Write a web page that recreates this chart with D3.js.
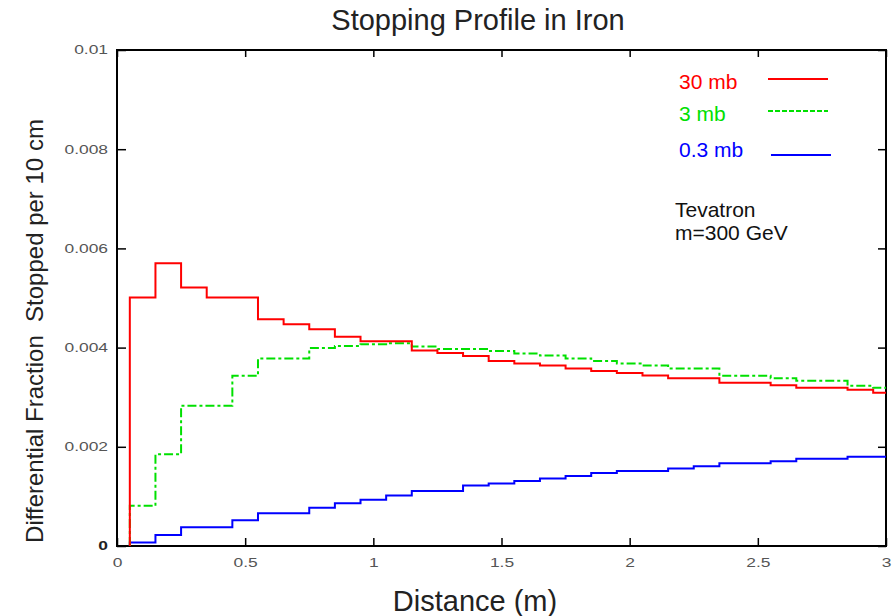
<!DOCTYPE html>
<html>
<head>
<meta charset="utf-8">
<script src="https://cdn.jsdelivr.net/npm/d3@7"></script>
<style>
  body { margin: 0; background: #fff; }
  text { font-family: "Liberation Sans", Arial, sans-serif; }
</style>
</head>
<body>
<div id="chart"></div>
<script>
// bin centres (m), bins are 0.1 m wide
var binCenters = [0.1, 0.2, 0.3, 0.4, 0.5, 0.6, 0.7, 0.8, 0.9, 1.0,
                  1.1, 1.2, 1.3, 1.4, 1.5, 1.6, 1.7, 1.8, 1.9, 2.0,
                  2.1, 2.2, 2.3, 2.4, 2.5, 2.6, 2.7, 2.8, 2.9, 3.0];

var red30mb = [0.00501, 0.00570, 0.00521, 0.00501, 0.00501, 0.00457, 0.00447, 0.00437, 0.00422, 0.00413,
               0.00413, 0.00394, 0.00389, 0.00383, 0.00373, 0.00368, 0.00364, 0.00358, 0.00353, 0.00349,
               0.00344, 0.00338, 0.00338, 0.00329, 0.00329, 0.00324, 0.00319, 0.00319, 0.00315, 0.00309];

var green3mb = [0.00081, 0.00185, 0.00283, 0.00283, 0.00343, 0.00378, 0.00378, 0.00399, 0.00403, 0.00407,
                0.00409, 0.00402, 0.00397, 0.00397, 0.00393, 0.00388, 0.00384, 0.00378, 0.00373, 0.00368,
                0.00364, 0.00358, 0.00358, 0.00343, 0.00343, 0.00338, 0.00333, 0.00333, 0.00323, 0.00319];

var blue03mb = [0.00007, 0.00022, 0.00038, 0.00038, 0.00052, 0.00066, 0.00066, 0.00077, 0.00086, 0.00093,
                0.00102, 0.00111, 0.00111, 0.00122, 0.00126, 0.00131, 0.00136, 0.00141, 0.00147, 0.00151,
                0.00151, 0.00156, 0.00161, 0.00167, 0.00167, 0.00171, 0.00176, 0.00176, 0.00180, 0.00180];

var seriesNames = ["30 mb", "3 mb", "0.3 mb"];
var xTicks = [0, 0.5, 1, 1.5, 2, 2.5, 3];
var yTicks = [0, 0.002, 0.004, 0.006, 0.008, 0.01];

var width = 893, height = 616;
var margin = {top: 50, right: 7, bottom: 70, left: 117};
var plotW = width - margin.left - margin.right,
    plotH = height - margin.top - margin.bottom;

var svg = d3.select("#chart").append("svg")
  .attr("width", width)
  .attr("height", height);

var x = d3.scaleLinear().domain([0, 3]).range([0, plotW]);
var y = d3.scaleLinear().domain([0, 0.01]).range([plotH, 0]);

var g = svg.append("g")
  .attr("transform", "translate(" + margin.left + "," + margin.top + ")");

g.append("clipPath").attr("id", "clip")
  .append("rect").attr("width", plotW).attr("height", plotH);

// AXES, TICKS POINT INWARD LIKE GNUPLOT
// tick labels in the original are stretched sideways, so widen them a bit
function styleAxis(sel) {
  sel.select(".domain").remove();
  sel.selectAll(".tick line").attr("stroke", "#000").attr("stroke-width", 1.5);
  sel.selectAll(".tick text")
    .attr("fill", "#555")
    .style("font-size", "12px")
    .style("font-family", "'Liberation Sans', Arial, sans-serif")
    .each(function(){
      var len = this.getComputedTextLength();
      if (len > 0) {
        d3.select(this)
          .attr("textLength", len * 1.45)
          .attr("lengthAdjust", "spacingAndGlyphs");
      }
    });
}

var fmt = function(d){ return d === 0 ? "0" : String(+d.toFixed(3)); };

g.append("g")
  .attr("transform", "translate(0," + plotH + ")")
  .call(d3.axisBottom(x).tickValues(xTicks).tickSizeInner(-8).tickSizeOuter(0).tickPadding(12).tickFormat(fmt))
  .call(styleAxis);

g.append("g")
  .call(d3.axisTop(x).tickValues(xTicks).tickSizeInner(-7).tickSizeOuter(0).tickFormat(""))
  .call(styleAxis);

var yAxisG = g.append("g")
  .call(d3.axisLeft(y).tickValues(yTicks).tickSizeInner(-9).tickSizeOuter(0).tickPadding(9).tickFormat(fmt))
  .call(styleAxis);
// the zero on the y axis is printed heavier in the original
yAxisG.selectAll(".tick text").filter(function(d){ return d === 0; })
  .attr("fill", "#222").style("font-weight", "bold");

g.append("g")
  .attr("transform", "translate(" + plotW + ",0)")
  .call(d3.axisRight(y).tickValues(yTicks).tickSizeInner(-8).tickSizeOuter(0).tickFormat(""))
  .call(styleAxis);

g.append("rect")
  .attr("width", plotW).attr("height", plotH)
  .attr("fill", "none").attr("stroke", "#000").attr("stroke-width", 2);

// HISTOGRAM STEP LINES
var line = d3.line()
  .x(function(d){ return x(d[0]); })
  .y(function(d){ return y(d[1]); })
  .curve(d3.curveStepAfter);

function stepPoints(vals) {
  var pts = [[binCenters[0] - 0.05, 0]];
  for (var i = 0; i < vals.length; i++) {
    pts.push([binCenters[i] - 0.05, vals[i]]);
  }
  pts.push([binCenters[vals.length - 1] + 0.05, vals[vals.length - 1]]);
  return pts;
}

var series = [
  {name: seriesNames[0], values: red30mb, color: "#ff0000", dash: null},
  {name: seriesNames[1], values: green3mb, color: "#00e000", dash: "9,3,3,3"},
  {name: seriesNames[2], values: blue03mb, color: "#0000ff", dash: null}
];

var plot = g.append("g").attr("clip-path", "url(#clip)");
// draw blue, green, red so red/green overlap like the original
[2, 1, 0].forEach(function(i){
  var s = series[i];
  plot.append("path")
    .attr("d", line(stepPoints(s.values)))
    .attr("fill", "none")
    .attr("stroke", s.color)
    .attr("stroke-width", 2)
    .attr("stroke-dasharray", s.dash);
});

// LEGEND
var legendTextY = [89, 121, 157];
var legendLineY = [79, 111, 155];
series.forEach(function(s, i){
  svg.append("text")
    .attr("x", 679).attr("y", legendTextY[i])
    .attr("fill", s.color)
    .style("font-size", "21px")
    .text(s.name);
  svg.append("line")
    .attr("x1", i === 2 ? 771 : 768).attr("x2", i === 2 ? 831 : 828)
    .attr("y1", legendLineY[i]).attr("y2", legendLineY[i])
    .attr("stroke", s.color)
    .attr("stroke-width", 2)
    .attr("stroke-dasharray", s.dash ? "5,2" : null);
});

svg.append("text").attr("x", 675).attr("y", 217)
  .style("font-size", "21px").attr("fill", "#111").text("Tevatron");
svg.append("text").attr("x", 675).attr("y", 240)
  .style("font-size", "21px").attr("fill", "#111").text("m=300 GeV");

// TITLES
svg.append("text")
  .attr("x", 478).attr("y", 30)
  .attr("text-anchor", "middle")
  .style("font-size", "29px").attr("fill", "#222")
  .text("Stopping Profile in Iron");

svg.append("text")
  .attr("x", 475).attr("y", 611)
  .attr("text-anchor", "middle")
  .style("font-size", "29px").attr("fill", "#222")
  .text("Distance (m)");

svg.append("text")
  .attr("transform", "translate(43," + 331 + ") rotate(-90)")
  .attr("text-anchor", "middle")
  .attr("xml:space", "preserve")
  .style("white-space", "pre")
  .style("font-size", "24px").attr("fill", "#222")
  .text("Differential Fraction  Stopped per 10 cm");
</script>
</body>
</html>
